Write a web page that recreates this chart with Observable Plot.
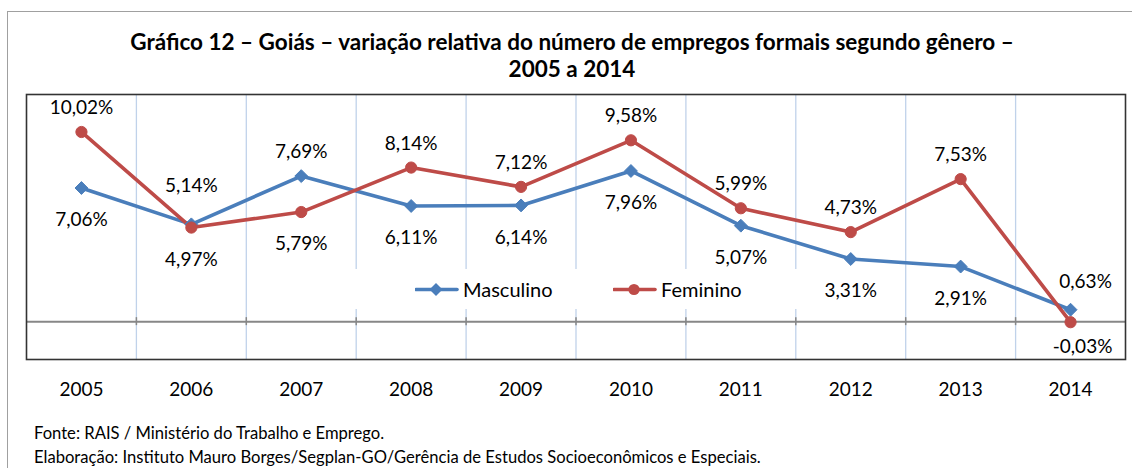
<!DOCTYPE html>
<html>
<head>
<meta charset="utf-8">
<script src="https://cdn.jsdelivr.net/npm/d3@7"></script>
<script src="https://cdn.jsdelivr.net/npm/@observablehq/plot@0.6"></script>
<style>
  html, body { margin: 0; padding: 0; background: #fff; overflow: hidden; }
  body { width: 1132px; height: 468px; position: relative; font-family: Lato, "Open Sans", sans-serif; color: #000; }
  #frame { position: absolute; left: 7px; top: 11px; width: 1200px; height: 520px; border: 1px solid #a0a0a0; box-sizing: border-box; }
  #title { position: absolute; left: 7px; width: 1130px; top: 28px; text-align: center; font-weight: 700; font-size: 22.5px; line-height: 27px; }
  #chart { position: absolute; left: 0; top: 80px; }
  #legend { position: absolute; left: 352px; top: 269px; width: 448px; height: 40px; background: #fff; }
  .item { position: absolute; top: 0; height: 40px; display: flex; align-items: center; font-size: 20px; }
  #caption { position: absolute; left: 34px; top: 421px; font-size: 16.6px; line-height: 24px; }
</style>
</head>
<body>
<div id="frame"></div>
<div id="title">Gráfico 12 – Goiás – variação relativa do número de empregos formais segundo gênero –<br>2005 a 2014</div>
<div id="chart"></div>
<div id="legend"></div>
<div id="caption">Fonte: RAIS / Ministério do Trabalho e Emprego.<br>Elaboração: Instituto Mauro Borges/Segplan-GO/Gerência de Estudos Socioeconômicos e Especiais.</div>
<script>
const years = [2005, 2006, 2007, 2008, 2009, 2010, 2011, 2012, 2013, 2014];
const masculino = [7.06, 5.14, 7.69, 6.11, 6.14, 7.96, 5.07, 3.31, 2.91, 0.63];
const feminino = [10.02, 4.97, 5.79, 8.14, 7.12, 9.58, 5.99, 4.73, 7.53, -0.03];
const seriesNames = ["Masculino", "Feminino"];
const seriesColors = ["#4a7ebb", "#be4b48"];

const rows = [];
years.forEach((y, i) => {
  rows.push({year: y, series: "Masculino", value: masculino[i], other: feminino[i]});
  rows.push({year: y, series: "Feminino", value: feminino[i], other: masculino[i]});
});
const lastYear = years[years.length - 1];
const inner = rows.filter(d => d.year !== lastYear);
const edge = rows.filter(d => d.year === lastYear);
const isAbove = d => d.value >= d.other;
const isClose = d => Math.abs(d.value - d.other) < 0.3;
const fmt = v => v.toFixed(2).replace(".", ",") + "%";
const boundaries = years.slice(0, -1);
const labelStyle = {x: "year", y: "value", text: d => fmt(d.value), fontSize: 19, fill: "#000"};

const chart = Plot.plot({
  width: 1132,
  height: 330,
  marginLeft: 26,
  marginRight: 7,
  marginTop: 14,
  marginBottom: 51,
  style: {fontFamily: "Lato, 'Open Sans', sans-serif", color: "#000", background: "transparent"},
  x: {domain: [years[0] - 0.5, lastYear + 0.5], axis: null},
  y: {domain: [-2, 12], axis: null},
  color: {domain: seriesNames, range: seriesColors},
  marks: [
    Plot.ruleX(boundaries, {x: d => d + 0.5, stroke: "#c0d2ea", strokeWidth: 1.3}),
    Plot.ruleY([0], {stroke: "#878787", strokeWidth: 2}),
    Plot.ruleX(boundaries, {x: d => d + 0.5, y1: 0, y2: 0, insetTop: 4, insetBottom: 4, stroke: "#878787", strokeWidth: 1.5}),
    Plot.frame({stroke: "#333", strokeWidth: 1.6}),
    Plot.axisX({ticks: years, tickSize: 0, tickPadding: 23, tickFormat: d => String(d), label: null, fontSize: 19, fill: "#000"}),
    Plot.line(rows, {x: "year", y: "value", z: "series", stroke: "series", strokeWidth: 3.6}),
    Plot.dot(rows.filter(d => d.series === "Masculino"), {x: "year", y: "value", symbol: "diamond2", r: 5.8, fill: seriesColors[0], stroke: seriesColors[0], strokeWidth: 1}),
    Plot.dot(rows.filter(d => d.series === "Feminino"), {x: "year", y: "value", r: 5.6, fill: seriesColors[1], stroke: seriesColors[1], strokeWidth: 1}),
    Plot.text(inner.filter(d => isAbove(d) && !isClose(d)), {...labelStyle, dy: -24}),
    Plot.text(inner.filter(d => isAbove(d) && isClose(d)), {...labelStyle, dy: -38}),
    Plot.text(inner.filter(d => !isAbove(d)), {...labelStyle, dy: 32}),
    Plot.text(edge.filter(isAbove), {...labelStyle, dy: -28, dx: 15}),
    Plot.text(edge.filter(d => !isAbove(d)), {...labelStyle, dy: 25, dx: 12})
  ]
});
document.getElementById("chart").appendChild(chart);

// legend
const legend = document.getElementById("legend");
const items = [
  {name: seriesNames[0], color: seriesColors[0], symbol: "diamond", left: 63},
  {name: seriesNames[1], color: seriesColors[1], symbol: "circle", left: 261}
];
items.forEach(it => {
  const div = document.createElement("div");
  div.className = "item";
  div.style.left = it.left + "px";
  const mk = it.symbol === "diamond"
    ? `<path d="M21,14 l6.5,6.5 l-6.5,6.5 l-6.5,-6.5 z" fill="${it.color}"/>`
    : `<circle cx="21" cy="20.5" r="5.6" fill="${it.color}"/>`;
  div.innerHTML = `<svg width="44" height="40" style="margin-right:4px"><line x1="1" x2="42" y1="20.5" y2="20.5" stroke="${it.color}" stroke-width="3.6" stroke-linecap="round"/>${mk}</svg><span>${it.name}</span>`;
  legend.appendChild(div);
});
</script>
</body>
</html>
